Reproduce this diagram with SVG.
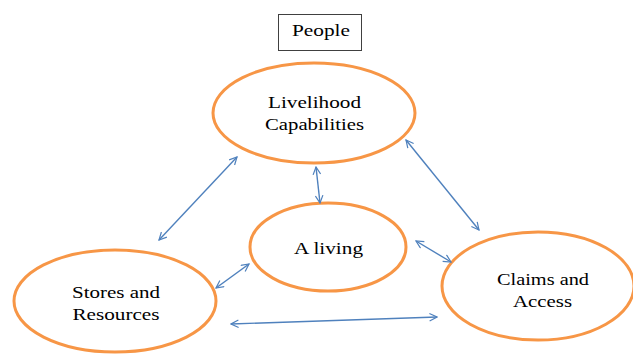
<svg xmlns="http://www.w3.org/2000/svg" width="633" height="356" viewBox="0 0 633 356">
<style>
.n{fill:#fff;stroke:#F79646;stroke-width:3}
.t{font-size:17px;fill:#000;text-anchor:middle}
.c{stroke:#4F81BD;stroke-width:1.4;fill:none;marker-start:url(#a);marker-end:url(#a)}
</style>
<defs>
<marker id="a" viewBox="0 0 12 12" refX="11" refY="6" markerWidth="9" markerHeight="9" markerUnits="userSpaceOnUse" orient="auto-start-reverse">
<path d="M1,1 L11,6 L1,11" fill="none" stroke="#4F81BD" stroke-width="1.6"/>
</marker>
</defs>
<g font-family="Liberation Serif, DejaVu Serif, serif">
<g id="people">
<rect x="278.5" y="14.5" width="83" height="36" fill="#fff" stroke="#404040" stroke-width="1"/>
<text class="t" x="321" y="36" font-size="16" textLength="58" lengthAdjust="spacingAndGlyphs">People</text>
</g>
<g id="livelihood">
<ellipse class="n" cx="314" cy="113" rx="101" ry="50"/>
<text class="t" x="314.5" y="108" textLength="93" lengthAdjust="spacingAndGlyphs">Livelihood</text>
<text class="t" x="314.5" y="130" textLength="99" lengthAdjust="spacingAndGlyphs">Capabilities</text>
</g>
<g id="aliving">
<ellipse class="n" cx="328" cy="247" rx="78" ry="44"/>
<text class="t" x="328.5" y="254" textLength="69" lengthAdjust="spacingAndGlyphs">A living</text>
</g>
<g id="stores">
<ellipse class="n" cx="115" cy="301" rx="101" ry="51"/>
<text class="t" x="116" y="298" textLength="88" lengthAdjust="spacingAndGlyphs">Stores and</text>
<text class="t" x="116" y="320" textLength="87" lengthAdjust="spacingAndGlyphs">Resources</text>
</g>
<g id="claims">
<ellipse class="n" cx="538" cy="286" rx="96" ry="54"/>
<text class="t" x="543" y="285" textLength="92" lengthAdjust="spacingAndGlyphs">Claims and</text>
<text class="t" x="542.5" y="307" textLength="59" lengthAdjust="spacingAndGlyphs">Access</text>
</g>
</g>
<g id="connectors">
<line class="c" x1="159" y1="240" x2="237" y2="157"/>
<line class="c" x1="316" y1="167" x2="320" y2="203"/>
<line class="c" x1="406" y1="140" x2="479" y2="230"/>
<line class="c" x1="416" y1="241" x2="451" y2="262"/>
<line class="c" x1="216" y1="288" x2="249" y2="264"/>
<line class="c" x1="231" y1="324" x2="437" y2="317"/>
</g>
</svg>
